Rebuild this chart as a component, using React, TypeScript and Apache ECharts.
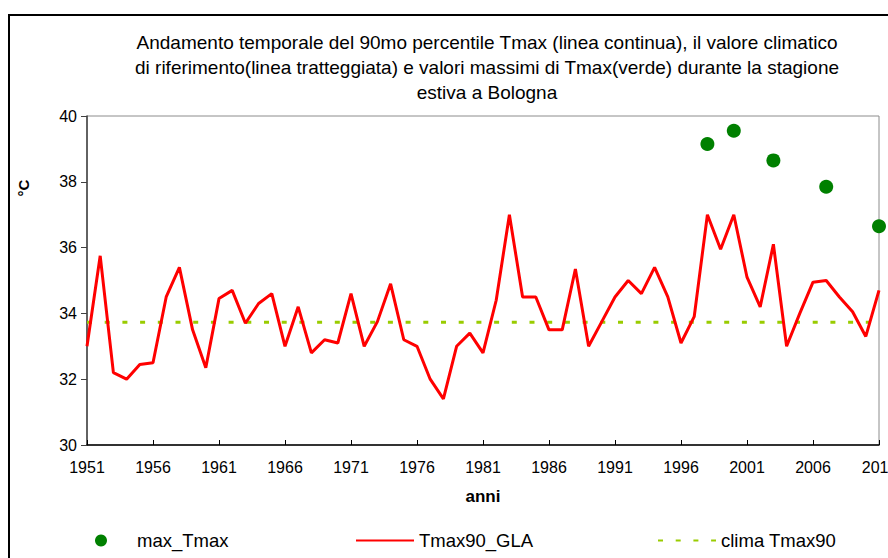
import React, { useEffect, useRef } from "react";
import * as echarts from "echarts";

const years: string[] = [];
for (let y = 1951; y <= 2011; y++) years.push(String(y));

const tmax90Gla: number[] = [
  33.0, 35.75, 32.2, 32.0, 32.45, 32.5, 34.5, 35.4, 33.5, 32.35,
  34.45, 34.7, 33.7, 34.3, 34.6, 33.0, 34.2, 32.8, 33.2, 33.1,
  34.6, 33.0, 33.75, 34.9, 33.2, 33.0, 32.0, 31.4, 33.0, 33.4,
  32.8, 34.4, 37.0, 34.5, 34.5, 33.5, 33.5, 35.35, 33.0, 33.75,
  34.5, 35.0, 34.6, 35.4, 34.5, 33.1, 33.9, 37.0, 35.95, 37.0,
  35.1, 34.2, 36.1, 33.0, 34.0, 34.95, 35.0, 34.5, 34.05, 33.3,
  34.7,
];

const maxYears: string[] = ["1998", "2000", "2003", "2007", "2011"];
const maxTmax: number[] = [39.15, 39.55, 38.65, 37.85, 36.65];

const climaYears: string[] = ["1951", "2011"];
const climaTmax90 = 33.73;

const titleText =
  "Andamento temporale del 90mo percentile Tmax (linea continua), il valore climatico\n" +
  "di riferimento(linea tratteggiata) e valori massimi di Tmax(verde) durante la stagione\n" +
  "estiva a Bologna";

const FONT = "Liberation Sans, Arial, sans-serif";

export default function App() {
  const ref = useRef<HTMLDivElement>(null);
  useEffect(() => {
    if (!ref.current) return;
    const chart = echarts.init(ref.current, null, { renderer: "svg" });
    const legendText = { fontFamily: FONT, fontSize: 18.5, color: "#000" };
    chart.setOption({
      animation: false,
      backgroundColor: "#fff",
      textStyle: { fontFamily: FONT },
      grid: {
        left: 87,
        right: 9,
        top: 116,
        bottom: 113,
        outerBoundsMode: "none",
        containLabel: false,
        show: true,
        borderColor: "#8c8c8c",
        borderWidth: 1,
        backgroundColor: "transparent",
      },
      xAxis: {
        type: "category",
        data: years,
        boundaryGap: false,
        name: "anni",
        nameLocation: "middle",
        nameGap: 43,
        nameTextStyle: { fontFamily: FONT, fontSize: 17, fontWeight: "bold", color: "#000" },
        axisLine: { lineStyle: { color: "#000", width: 1.5 } },
        axisTick: { inside: true, length: 5, interval: 4, lineStyle: { color: "#000" } },
        axisLabel: { interval: 4, fontFamily: FONT, fontSize: 16, color: "#000", margin: 14 },
        splitLine: { show: false },
      },
      yAxis: {
        type: "value",
        min: 30,
        max: 40,
        interval: 2,
        axisLine: { show: true, lineStyle: { color: "#404040", width: 1.5 } },
        axisTick: { show: true, length: 6, lineStyle: { color: "#404040" } },
        axisLabel: { fontFamily: FONT, fontSize: 16, color: "#000", margin: 10 },
        splitLine: { show: false },
      },
      legend: [
        {
          left: 95,
          top: 531,
          padding: 0,
          itemWidth: 12,
          itemHeight: 12,
          data: ["max_Tmax"],
          textStyle: { ...legendText, padding: [0, 0, 0, 25] },
        },
        {
          left: 355,
          top: 531,
          padding: 0,
          itemWidth: 58,
          itemHeight: 12,
          data: ["Tmax90_GLA"],
          itemStyle: { opacity: 0 },
          textStyle: legendText,
        },
        {
          left: 657,
          top: 531,
          padding: 0,
          itemWidth: 58,
          itemHeight: 12,
          data: ["clima Tmax90"],
          itemStyle: { opacity: 0 },
          textStyle: legendText,
        },
      ],
      graphic: [
        {
          type: "rect",
          z: 0,
          silent: true,
          shape: { x: 9, y: 15, width: 1000, height: 700 },
          style: { fill: "none", stroke: "#000", lineWidth: 2 },
        },
        {
          type: "text",
          x: 487,
          y: 30,
          style: {
            text: titleText,
            textAlign: "center",
            textVerticalAlign: "top",
            fontFamily: FONT,
            fontSize: 19,
            lineHeight: 25,
            fill: "#000",
          },
        },
        {
          type: "text",
          x: 23,
          y: 188,
          rotation: Math.PI / 2,
          style: {
            text: "°C",
            textAlign: "center",
            textVerticalAlign: "middle",
            fontFamily: FONT,
            fontSize: 15,
            fontWeight: "bold",
            fill: "#000",
          },
        },
      ],
      series: [
        {
          name: "clima Tmax90",
          type: "line",
          z: 2,
          data: climaYears.map((y) => [y, climaTmax90]),
          symbol: "none",
          lineStyle: { color: "#99CC00", width: 3, type: [5, 12.7] },
          itemStyle: { color: "#99CC00" },
        },
        {
          name: "Tmax90_GLA",
          type: "line",
          z: 3,
          data: tmax90Gla,
          symbol: "none",
          lineStyle: { color: "#FF0000", width: 3 },
          itemStyle: { color: "#FF0000" },
        },
        {
          name: "max_Tmax",
          type: "scatter",
          z: 4,
          data: maxYears.map((y, i) => [y, maxTmax[i]]),
          symbol: "circle",
          symbolSize: 14,
          itemStyle: { color: "#008000", opacity: 1 },
        },
      ],
    });
    return () => chart.dispose();
  }, []);
  return (
    <div
      ref={ref}
      style={{ position: "fixed", left: 0, top: 0, width: 888, height: 558 }}
    />
  );
}
